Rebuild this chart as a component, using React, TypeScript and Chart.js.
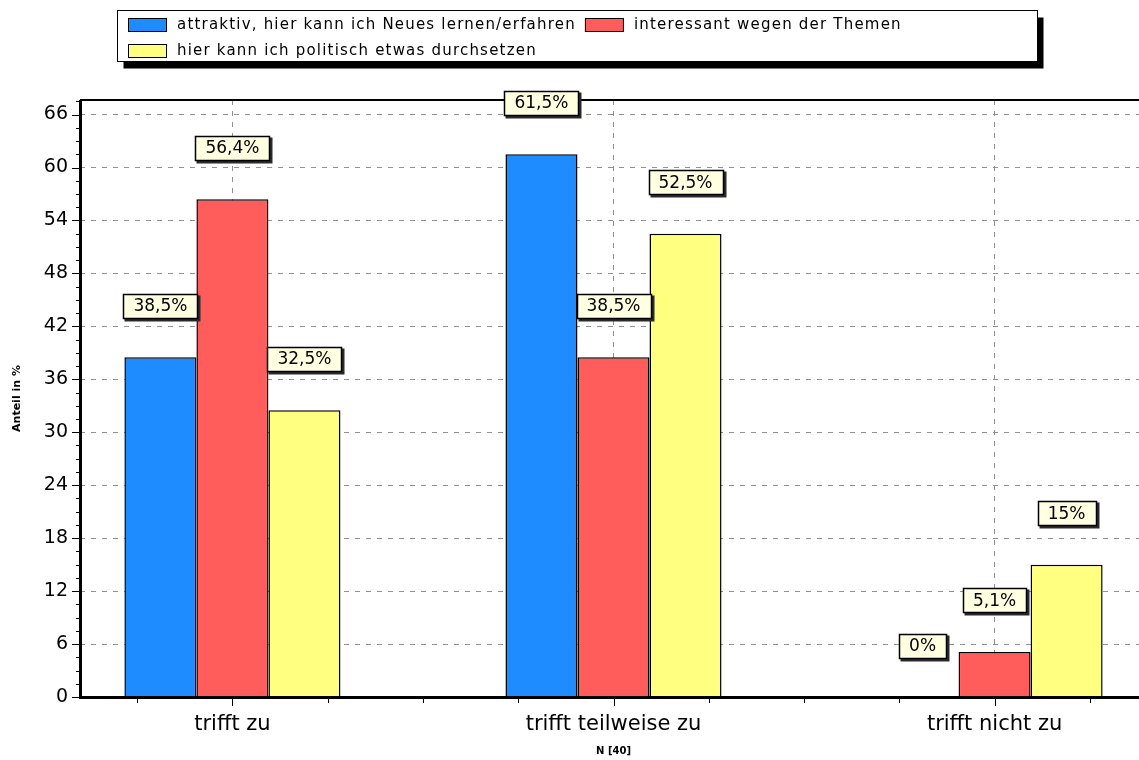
import React, { useEffect, useRef } from 'react';
import { Chart, registerables } from 'chart.js';

Chart.register(...registerables);

// ---------- data ----------
const categories = ['trifft zu', 'trifft teilweise zu', 'trifft nicht zu'];
const seriesNames = [
  'attraktiv, hier kann ich Neues lernen/erfahren',
  'interessant wegen der Themen',
  'hier kann ich politisch etwas durchsetzen',
];
const attraktiv = [38.5, 61.5, 0];
const interessant = [56.4, 38.5, 5.1];
const durchsetzen = [32.5, 52.5, 15];
const seriesColors = ['#1E8CFF', '#FF5C5C', '#FFFF80'];
const yAxisTitle = 'Anteil in %';
const xAxisTitle = 'N [40]';
const yStep = 6;
const yMax = 67.65;

const FONT = '"DejaVu Sans", "Liberation Sans", sans-serif';

const fmt = (v: number) => String(v).replace('.', ',') + '%';

// ---------- plugins ----------
const framePlugin = {
  id: 'frameTicks',
  afterDatasetsDraw(chart: any) {
    const { ctx, chartArea: a, scales } = chart;
    const x = scales.x;
    const y = scales.y;
    ctx.save();
    ctx.strokeStyle = '#000';
    ctx.lineWidth = 1;
    ctx.beginPath();
    // x ticks (major at categories, minor at quarters)
    for (let k = Math.ceil(x.min / 0.25); k * 0.25 <= x.max + 1e-9; k++) {
      const v = k * 0.25;
      const px = Math.round(x.getPixelForValue(v)) + 0.5;
      const major = k % 4 === 0;
      ctx.moveTo(px, a.bottom);
      ctx.lineTo(px, a.bottom + (major ? 9 : 6));
    }
    // y ticks (major every step, minor every quarter step)
    for (let k = 0; k * (yStep / 4) <= y.max + 1e-9; k++) {
      const v = k * (yStep / 4);
      const py = Math.round(y.getPixelForValue(v)) + 0.5;
      const major = k % 4 === 0;
      ctx.moveTo(a.left, py);
      ctx.lineTo(a.left - (major ? 8 : 4), py);
    }
    ctx.stroke();

    // frame lines
    ctx.lineWidth = 3;
    ctx.beginPath();
    ctx.moveTo(a.left + 0.5, a.top);
    ctx.lineTo(a.left + 0.5, a.bottom + 2);
    ctx.moveTo(a.left - 1, a.bottom + 0.5);
    ctx.lineTo(a.right + 5, a.bottom + 0.5);
    ctx.stroke();
    ctx.lineWidth = 2;
    ctx.beginPath();
    ctx.moveTo(a.left, a.top);
    ctx.lineTo(a.right + 5, a.top);
    ctx.stroke();
    ctx.restore();
  },
};

const labelPlugin = {
  id: 'valueBoxes',
  afterDraw(chart: any) {
    const ctx = chart.ctx;
    ctx.save();
    ctx.font = `17px ${FONT}`;
    chart.data.datasets.forEach((ds: any, di: number) => {
      const meta = chart.getDatasetMeta(di);
      meta.data.forEach((bar: any, i: number) => {
        const v = ds.data[i].y;
        const text = fmt(v);
        const tw = ctx.measureText(text).width;
        const w = Math.round(tw + 20);
        const h = 24;
        const cx = bar.x;
        const cy = bar.y - 51.5;
        const bx = Math.round(cx - w / 2) + 0.5;
        const by = Math.round(cy - h / 2) + 0.5;
        ctx.fillStyle = '#2a2a2a';
        ctx.fillRect(bx + 1, by + 1, w + 2, h + 2);
        ctx.fillStyle = '#FFFFE1';
        ctx.fillRect(bx, by, w, h);
        ctx.strokeStyle = '#000';
        ctx.lineWidth = 1.5;
        ctx.strokeRect(bx, by, w, h);
        ctx.fillStyle = '#000';
        ctx.textAlign = 'center';
        ctx.textBaseline = 'middle';
        ctx.fillText(text, cx, cy + 1);
      });
    });
    ctx.restore();
  },
};

const legendPlugin = {
  id: 'boxLegend',
  afterDraw(chart: any) {
    const ctx = chart.ctx;
    const box = { x: 117.5, y: 10.5, w: 920, h: 51 };
    ctx.save();
    // shadow
    ctx.fillStyle = '#000';
    ctx.fillRect(box.x + 6, box.y + 7, box.w, box.h);
    ctx.fillStyle = '#fff';
    ctx.fillRect(box.x, box.y, box.w, box.h);
    ctx.strokeStyle = '#000';
    ctx.lineWidth = 1;
    ctx.strokeRect(box.x, box.y, box.w, box.h);

    ctx.font = `15px ${FONT}`;
    (ctx as any).letterSpacing = '1.2px';
    ctx.textBaseline = 'middle';
    ctx.textAlign = 'left';
    const rowH = 25.5;
    let row = 0;
    let x = 128;
    chart.data.datasets.forEach((ds: any) => {
      const tw = ctx.measureText(ds.label).width;
      if (x + 49 + tw > box.x + box.w - 4) {
        row++;
        x = 128;
      }
      const cy = 24.5 + row * rowH;
      ctx.fillStyle = ds.backgroundColor;
      ctx.fillRect(x + 0.5, Math.round(cy - 6.5) + 0.5, 38, 13);
      ctx.strokeStyle = '#000';
      ctx.lineWidth = 1;
      ctx.strokeRect(x + 0.5, Math.round(cy - 6.5) + 0.5, 38, 13);
      ctx.fillStyle = '#000';
      ctx.fillText(ds.label, x + 49, cy + 1);
      x = x + 49 + tw + 9;
    });
    ctx.restore();
  },
};

// ---------- component ----------
export default function App() {
  const ref = useRef<HTMLCanvasElement>(null);

  useEffect(() => {
    const series = [attraktiv, interessant, durchsetzen];
    const chart = new Chart(ref.current as HTMLCanvasElement, {
      type: 'bar',
      data: {
        datasets: series.map((vals, si) => ({
          label: seriesNames[si],
          data: vals.map((v, i) => ({ x: i, y: v })),
          backgroundColor: seriesColors[si],
          borderColor: '#000000',
          borderWidth: 1.5,
          categoryPercentage: 0.567,
          barPercentage: 1,
        })),
      },
      options: {
        responsive: false,
        animation: false,
        devicePixelRatio: 1,
        layout: { padding: { top: 100, right: 13, left: 0, bottom: 0 } },
        plugins: {
          legend: { display: false },
          tooltip: { enabled: false },
        },
        scales: {
          x: {
            type: 'linear',
            min: -0.4,
            max: 2.4,
            offset: false,
            afterBuildTicks: (s: any) => {
              s.ticks = categories.map((_, i) => ({ value: i }));
            },
            afterFit: (s: any) => {
              s.height = 63;
            },
            ticks: {
              callback: (v: any) => categories[v] ?? '',
              font: { family: FONT, size: 21 },
              color: '#000',
              padding: 15,
              maxRotation: 0,
              autoSkip: false,
            },
            grid: { color: '#909090', drawTicks: false, lineWidth: 1, offset: false },
            border: { display: false, dash: [5, 6] },
            title: {
              display: true,
              text: xAxisTitle,
              font: { family: FONT, size: 10, weight: 'bold' },
              color: '#000',
              padding: { top: 0, bottom: 3 },
            },
          },
          y: {
            type: 'linear',
            min: 0,
            max: yMax,
            afterFit: (s: any) => {
              s.width = 80;
            },
            ticks: {
              stepSize: yStep,
              includeBounds: false,
              font: { family: FONT, size: 19 },
              color: '#000',
              padding: 12,
            },
            grid: { color: '#909090', drawTicks: false, lineWidth: 1 },
            border: { display: false, dash: [5, 6] },
            title: {
              display: true,
              text: yAxisTitle,
              font: { family: FONT, size: 11, weight: 'bold' },
              color: '#000',
              padding: { top: 11, bottom: 0 },
            },
          },
        },
      } as any,
      plugins: [framePlugin, labelPlugin, legendPlugin],
    } as any);
    return () => chart.destroy();
  }, []);

  return (
    <div
      style={{
        position: 'fixed',
        left: 0,
        top: 0,
        width: 1139,
        height: 760,
        overflow: 'hidden',
        background: '#fff',
      }}
    >
      <canvas
        ref={ref}
        width={1160}
        height={760}
        style={{ display: 'block', width: 1160, height: 760 }}
      />
    </div>
  );
}
